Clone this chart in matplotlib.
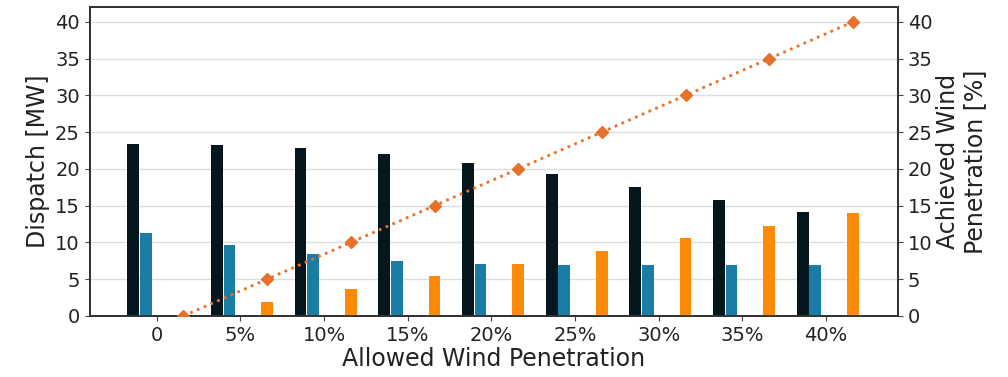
import matplotlib
matplotlib.use("Agg")
import matplotlib.pyplot as plt
import numpy as np

# Data
labels = ["0", "5%", "10%", "15%", "20%", "25%", "30%", "35%", "40%"]
conventional = [23.4, 23.3, 22.8, 22.0, 20.8, 19.3, 17.5, 15.8, 14.1]
flexible = [11.3, 9.7, 8.4, 7.5, 7.0, 6.9, 6.9, 6.9, 6.9]
wind = [0.0, 1.9, 3.7, 5.4, 7.1, 8.8, 10.6, 12.2, 14.0]
achieved = [0, 5, 10, 15, 20, 25, 30, 35, 40]

x = np.arange(len(labels))
w = 0.14

fig, ax = plt.subplots(figsize=(10.08, 3.77), dpi=100)
fig.subplots_adjust(left=0.089, right=0.891, top=0.981, bottom=0.162)

ax.bar(x - 0.28, conventional, w, color="#06161f", zorder=3)
ax.bar(x - 0.13, flexible, w, color="#1a7da6", zorder=3)
ax.bar(x + 0.32, wind, w, color="#ff8a0a", zorder=3)

ax.set_xlim(-0.8, 8.86)
ax.set_ylim(0, 42)
ax.set_yticks(range(0, 41, 5))
ax.set_xticks(x)
ax.set_xticklabels(labels)
ax.grid(axis="y", color="#dddddd", linewidth=1, zorder=0)
ax.set_axisbelow(True)
ax.tick_params(labelsize=14, color="#444444", labelcolor="#222222")
ax.set_ylabel("Dispatch [MW]", fontsize=17, color="#222222")
ax.set_xlabel("Allowed Wind Penetration", fontsize=17, labelpad=2, color="#222222")

ax2 = ax.twinx()
ax2.plot(x + 0.32, achieved, linestyle=":", linewidth=2, color="#e8702a",
         marker="D", markersize=6.5, zorder=4)
ax2.set_ylim(0, 42)
ax2.set_yticks(range(0, 41, 5))
ax2.tick_params(labelsize=14, color="#444444", labelcolor="#222222")
ax2.set_ylabel("Achieved Wind\nPenetration [%]", fontsize=17, labelpad=2, color="#222222")

for a in (ax, ax2):
    for s in a.spines.values():
        s.set_color("#333333")
        s.set_linewidth(1.3)

plt.savefig("out.png", dpi=100)
